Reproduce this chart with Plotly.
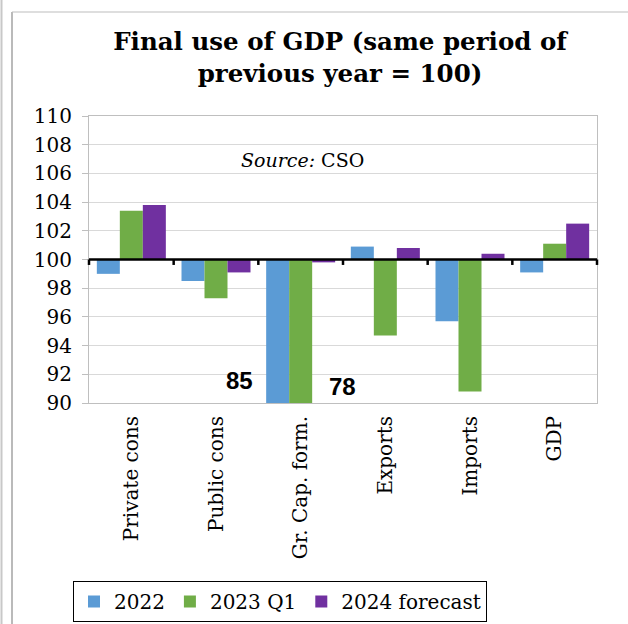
import plotly.graph_objects as go

# Categories and index values (same period of previous year = 100)
categories = ["Private cons", "Public cons", "Gr. Cap. form.", "Exports", "Imports", "GDP"]
series_names = ["2022", "2023 Q1", "2024 forecast"]
values_2022 = [99.0, 98.5, 85.0, 100.9, 95.7, 99.1]
values_2023q1 = [103.4, 97.3, 78.0, 94.7, 90.8, 101.1]
values_2024f = [103.8, 99.1, 99.8, 100.8, 100.4, 102.5]
colors = ["#5B9BD5", "#70AD47", "#7030A0"]
y_ticks = [90, 92, 94, 96, 98, 100, 102, 104, 106, 108, 110]
BASE = 100

W, H = 628, 624
L, R, T, B = 89, 31, 116, 221
pw, ph = W - L - R, H - T - B

def px_x(p):
    return (p - L) / pw

def px_y(p):
    return (H - B - p) / ph

FONT = "DejaVu Serif"

fig = go.Figure()
for name, vals, col in zip(series_names, [values_2022, values_2023q1, values_2024f], colors):
    fig.add_trace(go.Bar(
        x=categories,
        y=[v - BASE for v in vals],
        base=BASE,
        name=name,
        marker=dict(color=col, line=dict(width=0)),
    ))

shapes = []
# reference line at 100 with small tick marks between categories
shapes.append(dict(type="line", xref="paper", yref="y", x0=0, x1=1, y0=BASE, y1=BASE,
                   line=dict(color="black", width=2.5)))
for i in range(len(categories) + 1):
    xb = i / len(categories)
    shapes.append(dict(type="line", xref="paper", yref="y", x0=xb, x1=xb,
                       y0=BASE, y1=BASE - 0.38, line=dict(color="black", width=2.5)))
# chart frame
shapes.append(dict(type="line", xref="paper", yref="paper", x0=px_x(12), x1=px_x(12),
                   y0=px_y(12), y1=px_y(H + 5), line=dict(color="#8c8c8c", width=1.2)))
shapes.append(dict(type="line", xref="paper", yref="paper", x0=px_x(12), x1=px_x(W + 5),
                   y0=px_y(12), y1=px_y(12), line=dict(color="#bdbdbd", width=1.2)))
shapes.append(dict(type="line", xref="paper", yref="paper", x0=px_x(1.5), x1=px_x(1.5),
                   y0=px_y(-5), y1=px_y(H + 5), line=dict(color="#c8c8c8", width=2)))

annotations = [
    dict(x=px_x(302), y=px_y(160), xref="paper", yref="paper", showarrow=False,
         xanchor="center", yanchor="middle",
         text="<i>Source:</i> CSO", font=dict(family=FONT, size=19, color="black")),
    dict(x=1.28, y=91.6, xref="x", yref="y", showarrow=False, text="<b>85</b>",
         xanchor="center", yanchor="middle",
         font=dict(family="Liberation Sans", size=24, color="black")),
    dict(x=2.49, y=91.15, xref="x", yref="y", showarrow=False, text="<b>78</b>",
         xanchor="center", yanchor="middle",
         font=dict(family="Liberation Sans", size=24, color="black")),
]

fig.update_layout(
    width=W, height=H,
    margin=dict(l=L, r=R, t=T, b=B, autoexpand=False),
    paper_bgcolor="white", plot_bgcolor="white",
    font=dict(family=FONT, size=20, color="black"),
    title=dict(text="<b>Final use of GDP (same period of<br>previous year = 100)</b>",
               x=px_x(340), xref="paper", xanchor="center",
               y=1 - 50 / H, yref="container", yanchor="top",
               font=dict(family=FONT, size=24.5, color="black")),
    barmode="group", bargap=0.185, bargroupgap=0,
    showlegend=True,
    legend=dict(orientation="h", x=73 / W, y=1 - 581 / H, xanchor="left", yanchor="top",
                xref="container", yref="container",
                bordercolor="black", borderwidth=1, bgcolor="white",
                font=dict(family=FONT, size=20), itemwidth=30,
                traceorder="normal"),
    shapes=shapes,
    annotations=annotations,
)
fig.update_xaxes(showline=True, linecolor="#bfbfbf", linewidth=1, mirror=True,
                 showgrid=False, ticks="", tickangle=-90,
                 tickfont=dict(family=FONT, size=20), ticklabelstandoff=4)
fig.update_yaxes(range=[90, 110], tickvals=y_ticks, showgrid=True, gridcolor="#d9d9d9",
                 gridwidth=1, showline=True, linecolor="#bfbfbf", linewidth=1, mirror=True,
                 ticks="outside", ticklen=6, tickcolor="#bfbfbf", zeroline=False,
                 tickfont=dict(family=FONT, size=20), ticklabelstandoff=6)

fig.write_html("out.html")
